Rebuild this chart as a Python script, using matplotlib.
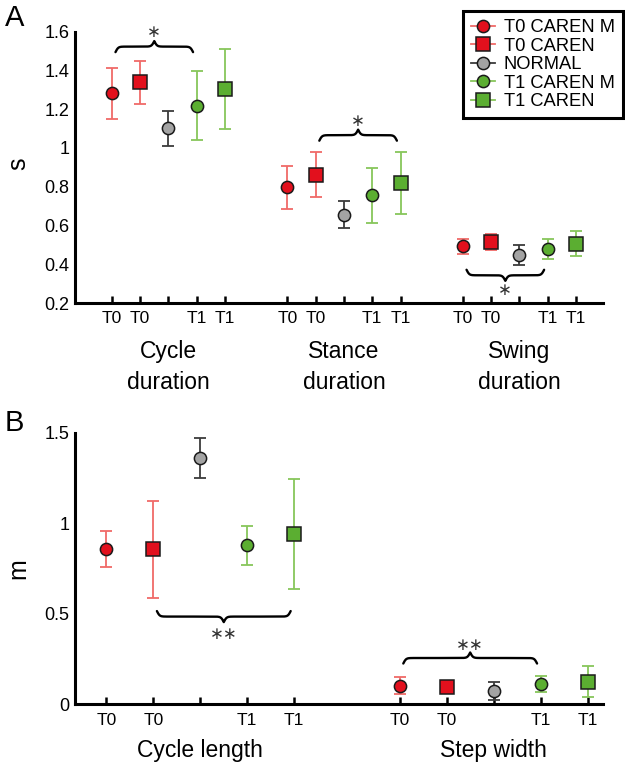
import numpy as np
import matplotlib
matplotlib.use('Agg')
import matplotlib.pyplot as plt
from matplotlib.lines import Line2D

plt.rcParams['font.family'] = ['Liberation Sans', 'DejaVu Sans']

# data
series = ['T0 CAREN M', 'T0 CAREN', 'NORMAL', 'T1 CAREN M', 'T1 CAREN']
tick_names = ['T0', 'T0', '', 'T1', 'T1']

cats_a = ['Cycle\nduration', 'Stance\nduration', 'Swing\nduration']
mean_a = [[1.283, 0.797, 0.492],
          [1.338, 0.862, 0.514],
          [1.102, 0.656, 0.447],
          [1.219, 0.755, 0.478],
          [1.304, 0.818, 0.506]]
sd_a = [[0.131, 0.111, 0.039],
        [0.111, 0.116, 0.043],
        [0.090, 0.070, 0.050],
        [0.178, 0.142, 0.050],
        [0.205, 0.160, 0.063]]

cats_b = ['Cycle length', 'Step width']
mean_b = [[0.858, 0.103],
          [0.856, 0.095],
          [1.360, 0.075],
          [0.878, 0.112],
          [0.940, 0.126]]
sd_b = [[0.100, 0.047],
        [0.268, 0.008],
        [0.110, 0.050],
        [0.107, 0.045],
        [0.303, 0.084]]

# significance braces: group, first series, last series, level, pointing up?, label, star level
br_a_group = [0, 1, 2]
br_a_from = [0, 1, 0]
br_a_to = [3, 4, 3]
br_a_level = [1.523, 1.066, 0.343]
br_a_up = [True, True, False]
br_a_text = ['∗', '∗', '∗']
br_a_star = [1.600, 1.140, 0.266]

br_b_group = [0, 1]
br_b_from = [1, 0]
br_b_to = [4, 3]
br_b_level = [0.485, 0.256]
br_b_up = [False, True]
br_b_text = ['∗∗', '∗∗']
br_b_star = [0.390, 0.330]

# styles
markers = ['o', 's', 'o', 'o', 's']
sizes = [8.8, 9.8, 8.8, 8.8, 9.8]
face = ['#E2101D', '#E2101D', '#A3A3A3', '#5BAE31', '#5BAE31']
ecol = ['#F06A68', '#F06A68', '#3C3C3C', '#87C65B', '#87C65B']


def brace(ax, xa, xb, y, h, up=True):
    p0 = ax.transData.transform((xa, y))
    p1 = ax.transData.transform((xb, y))
    half_px = (p1[0] - p0[0]) / 2
    beta = 4.4 * half_px / 6.0
    t = np.linspace(0, 1, 200)
    v = 1 / (1 + np.exp(-beta * t)) + 1 / (1 + np.exp(-beta * (t - 1)))
    v = np.concatenate([v, v[-2::-1]])
    xs = np.linspace(xa, xb, len(v))
    s = 1 if up else -1
    ax.plot(xs, y + s * (v - 1) * h, color='black', lw=1.7, clip_on=False,
            solid_capstyle='round', zorder=4)


def panel(ax, cats, means, sds, step, xlim, ylim, yticks, ylabs):
    n = len(cats)
    for i in range(len(series)):
        xs = [g * step + i for g in range(n)]
        ax.errorbar(xs, means[i], yerr=sds[i], fmt='none', ecolor=ecol[i],
                    elinewidth=1.3, capsize=4, capthick=1.3, zorder=2, clip_on=False)
        ax.plot(xs, means[i], linestyle='none', marker=markers[i], ms=sizes[i],
                mfc=face[i], mec='#1A1A1A', mew=1.1, zorder=3, clip_on=False)
    ticks = [g * step + i for g in range(n) for i in range(len(series))]
    ax.set_xticks(ticks)
    ax.set_xticklabels(tick_names * n, fontsize=12.5)
    ax.set_xlim(*xlim)
    ax.set_ylim(*ylim)
    ax.set_yticks(yticks)
    ax.set_yticklabels(ylabs, fontsize=13)
    for s in ['top', 'right']:
        ax.spines[s].set_visible(False)
    for s in ['left', 'bottom']:
        ax.spines[s].set_linewidth(2.2)
    ax.tick_params(axis='x', direction='in', length=5, width=1.8, pad=6)
    ax.tick_params(axis='y', length=0, pad=4)


fig = plt.figure(figsize=(6.25, 7.71), dpi=100)
axA = fig.add_axes([0.12, 0.607, 0.8448, 0.3519])
axB = fig.add_axes([0.12, 0.0865, 0.8448, 0.3519])

step_a = 6.2
step_b = 6.25
panel(axA, cats_a, mean_a, sd_a, step_a, (-1.3, 17.35), (0.2, 1.6),
      [0.2, 0.4, 0.6, 0.8, 1.0, 1.2, 1.4, 1.6],
      ['0.2', '0.4', '0.6', '0.8', '1', '1.2', '1.4', '1.6'])
panel(axB, cats_b, mean_b, sd_b, step_b, (-0.67, 10.58), (0, 1.5),
      [0, 0.5, 1.0, 1.5], ['0', '0.5', '1', '1.5'])

# category names under the tick labels
for g, c in enumerate(cats_a):
    axA.text(g * step_a + 2, -0.235, c, transform=axA.get_xaxis_transform(),
             ha='center', va='center', fontsize=16.5, linespacing=1.45)
for g, c in enumerate(cats_b):
    axB.text(g * step_b + 2, -0.172, c, transform=axB.get_xaxis_transform(),
             ha='center', va='center', fontsize=16.5)

# braces and stars
for k in range(len(br_a_group)):
    x0 = br_a_group[k] * step_a + br_a_from[k] + 0.13
    x1 = br_a_group[k] * step_a + br_a_to[k] - 0.13
    brace(axA, x0, x1, br_a_level[k], 0.057, br_a_up[k])
    axA.text((x0 + x1) / 2, br_a_star[k], br_a_text[k], ha='center', va='center',
             fontsize=12, family='DejaVu Sans', color='#333333', clip_on=False)
for k in range(len(br_b_group)):
    x0 = br_b_group[k] * step_b + br_b_from[k] + 0.075
    x1 = br_b_group[k] * step_b + br_b_to[k] - 0.075
    brace(axB, x0, x1, br_b_level[k], 0.061, br_b_up[k])
    axB.text((x0 + x1) / 2, br_b_star[k], br_b_text[k], ha='center', va='center',
             fontsize=12, family='DejaVu Sans', color='#333333', clip_on=False)

# axis names and panel letters
fig.text(18 / 625, 1 - 164 / 771, 's', rotation=90, ha='center', va='center', fontsize=18)
fig.text(18 / 625, 1 - 569 / 771, 'm', rotation=90, ha='center', va='center', fontsize=18)
fig.text(15 / 625, 1 - 18 / 771, 'A', ha='center', va='center', fontsize=21)
fig.text(14 / 625, 1 - 423 / 771, 'B', ha='center', va='center', fontsize=21)

# legend
handles = [Line2D([], [], color=ecol[i], lw=1.3, marker=markers[i], ms=sizes[i],
                  mfc=face[i], mec='#1A1A1A', mew=1.1) for i in range(len(series))]
leg = fig.legend(handles, series, loc='upper right', bbox_to_anchor=(0.9968, 0.9857),
                 borderaxespad=0, fontsize=13.2, handlelength=1.3, handletextpad=0.5,
                 labelspacing=0.08, borderpad=0.45, fancybox=False, framealpha=1)
leg.get_frame().set_edgecolor('black')
leg.get_frame().set_linewidth(2.2)

fig.savefig('out.png', dpi=100)
